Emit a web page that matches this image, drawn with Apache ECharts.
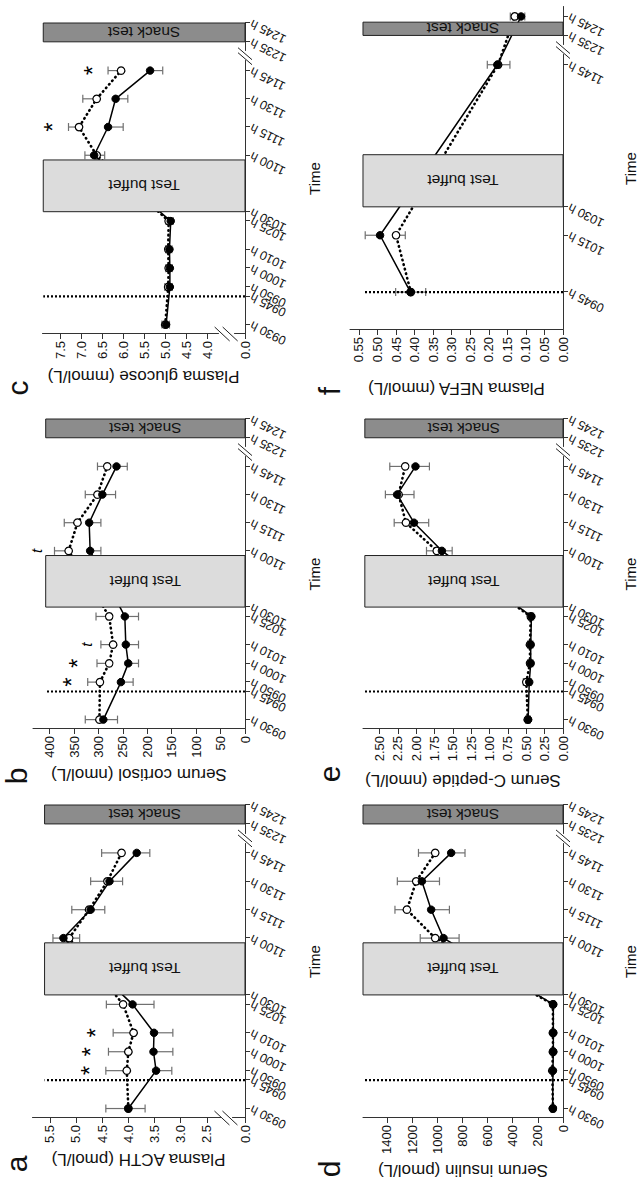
<!DOCTYPE html>
<html>
<head>
<meta charset="utf-8">
<script src="https://cdn.jsdelivr.net/npm/echarts@6/dist/echarts.min.js"></script>
<style>
html,body{margin:0;padding:0;width:642px;height:1184px;overflow:hidden;background:#fff;}
#wrap{position:absolute;left:0;top:0;width:1184px;height:642px;transform-origin:0 0;transform:translate(0,1184px) rotate(-90deg);}
#chart{width:1184px;height:642px;}
</style>
</head>
<body>
<div id="wrap"><div id="chart"></div></div>
<script>
// ---------- time (minutes after midnight) ----------
const sampleTimes = [570, 590, 600, 610, 625, 660, 675, 690, 705]; // 0930,0950,1000,1010,1025,1100,1115,1130,1145
const nefaTimes = [585, 615, 705, 765];                            // 0945,1015,1145,1245
const tickTimes = [570, 585, 590, 600, 610, 625, 630, 660, 675, 690, 705, 755, 765];
const tickTimeLabels = ['0930 h','0945 h','0950 h','1000 h','1010 h','1025 h','1030 h','1100 h','1115 h','1130 h','1145 h','1235 h','1245 h'];
const nefaTickTimes = [585, 615, 630, 705, 755, 765];
const nefaTickLabels = ['0945 h','1015 h','1030 h','1145 h','1235 h','1245 h'];
const baselineTime = 585;            // dotted line at 0945 h
const buffetPeriod = [630, 657.5];   // Test buffet
const snackPeriod = [755, 765];      // Snack test
const nefaSnackPeriod = [755, 762];
const timeBreak = [710, 750];
const timeMin = 565;
const timeMaxes = [765, 765, 765, 765, 765, 770];
const boxNames = ['Test buffet', 'Snack test'];
const markGlyphs = ['*', 't'];

// ---------- a: Plasma ACTH ----------
const acthFilled   = [4.00, 3.47, 3.52, 3.51, 3.92, 5.24, 4.72, 4.36, 3.84];
const acthFilledSD = [0.32, 0.30, 0.37, 0.36, 0.41, 0.20, 0.27, 0.25, 0.25];
const acthOpen     = [4.00, 4.03, 4.00, 3.90, 4.10, 5.13, 4.75, 4.40, 4.13];
const acthOpenSD   = [0.43, 0.40, 0.38, 0.39, 0.32, 0.20, 0.33, 0.32, 0.38];
const acthTicks = [0, 2.5, 3.0, 3.5, 4.0, 4.5, 5.0, 5.5];
const acthBreak = [0.25, 2.25];
const acthMarks = [[590, 4.83, 0], [600, 4.81, 0], [610, 4.73, 0]];

// ---------- b: Serum cortisol ----------
const cortFilled   = [290, 254, 239, 244, 246, 317, 319, 292, 263];
const cortFilledSD = [29, 25, 21, 26, 28, 22, 24, 27, 22];
const cortOpen     = [298, 297, 278, 270, 278, 361, 343, 302, 282];
const cortOpenSD   = [29, 25, 25, 25, 27, 29, 27, 25, 20];
const cortTicks = [0, 50, 100, 150, 200, 250, 300, 350, 400];
const cortMarks = [[590, 365, 0], [600, 353, 0], [610, 325, 1], [660, 426, 1]];

// ---------- c: Plasma glucose ----------
const glucFilled   = [4.98, 4.89, 4.89, 4.90, 4.87, 6.69, 6.36, 6.18, 5.36];
const glucFilledSD = [0.08, 0.06, 0.06, 0.06, 0.06, 0.22, 0.36, 0.29, 0.30];
const glucOpen     = [5.00, 4.93, 4.92, 4.93, 4.92, 6.63, 7.05, 6.63, 6.05];
const glucOpenSD   = [0.08, 0.08, 0.07, 0.06, 0.06, 0.19, 0.25, 0.33, 0.31];
const glucTicks = [0, 4.0, 4.5, 5.0, 5.5, 6.0, 6.5, 7.0, 7.5];
const glucBreak = [0.25, 3.75];
const glucMarks = [[675, 7.81, 0], [705, 6.86, 0]];

// ---------- d: Serum insulin ----------
const insFilled   = [82, 80, 77, 77, 77, 950, 1048, 1122, 889];
const insFilledSD = [12, 10, 10, 10, 10, 124, 145, 140, 110];
const insOpen     = [80, 85, 80, 80, 80, 1016, 1241, 1167, 1016];
const insOpenSD   = [12, 10, 10, 10, 10, 119, 95, 150, 133];
const insTicks = [0, 200, 400, 600, 800, 1000, 1200, 1400];

// ---------- e: Serum C-peptide ----------
const cpepFilled   = [0.475, 0.46, 0.44, 0.44, 0.43, 1.65, 2.03, 2.26, 2.01];
const cpepFilledSD = [0.03, 0.03, 0.03, 0.03, 0.03, 0.14, 0.20, 0.16, 0.19];
const cpepOpen     = [0.48, 0.50, 0.45, 0.45, 0.44, 1.72, 2.14, 2.24, 2.15];
const cpepOpenSD   = [0.03, 0.04, 0.03, 0.03, 0.03, 0.14, 0.16, 0.21, 0.21];
const cpepTicks = [0, 0.25, 0.5, 0.75, 1.0, 1.25, 1.5, 1.75, 2.0, 2.25, 2.5];

// ---------- f: Plasma NEFA ----------
const nefaFilled   = [0.411, 0.493, 0.177, 0.113];
const nefaFilledSD = [0.04, 0.04, 0.027, 0.01];
const nefaOpen     = [0.410, 0.450, 0.175, 0.130];
const nefaOpenSD   = [0.04, 0.025, 0.032, 0.012];
const nefaTicks = [0, 0.05, 0.1, 0.15, 0.2, 0.25, 0.3, 0.35, 0.4, 0.45, 0.5, 0.55];

// axis extents and box heights (data units)
const axisMax = [5.84, 434, 7.93, 1590, 2.725, 0.574];
const boxTops = [5.6, 408, 7.9, 1590, 2.70, 0.539];

// ---------- assemble ----------
const panels = [
  {name:'Plasma ACTH (pmol/L)', t:sampleTimes, f:acthFilled, fsd:acthFilledSD, o:acthOpen, osd:acthOpenSD, ticks:acthTicks, dec:1, brk:acthBreak, marks:acthMarks, xt:tickTimes, xl:tickTimeLabels, snack:snackPeriod},
  {name:'Serum cortisol (nmol/L)', t:sampleTimes, f:cortFilled, fsd:cortFilledSD, o:cortOpen, osd:cortOpenSD, ticks:cortTicks, dec:0, brk:null, marks:cortMarks, xt:tickTimes, xl:tickTimeLabels, snack:snackPeriod},
  {name:'Plasma glucose (mmol/L)', t:sampleTimes, f:glucFilled, fsd:glucFilledSD, o:glucOpen, osd:glucOpenSD, ticks:glucTicks, dec:1, brk:glucBreak, marks:glucMarks, xt:tickTimes, xl:tickTimeLabels, snack:snackPeriod},
  {name:'Serum insulin (pmol/L)', t:sampleTimes, f:insFilled, fsd:insFilledSD, o:insOpen, osd:insOpenSD, ticks:insTicks, dec:0, brk:null, marks:[], xt:tickTimes, xl:tickTimeLabels, snack:snackPeriod},
  {name:'Serum C-peptide (nmol/L)', t:sampleTimes, f:cpepFilled, fsd:cpepFilledSD, o:cpepOpen, osd:cpepOpenSD, ticks:cpepTicks, dec:2, brk:null, marks:[], xt:tickTimes, xl:tickTimeLabels, snack:snackPeriod},
  {name:'Plasma NEFA (mmol/L)', t:nefaTimes, f:nefaFilled, fsd:nefaFilledSD, o:nefaOpen, osd:nefaOpenSD, ticks:nefaTicks, dec:2, brk:null, marks:[], xt:nefaTickTimes, xl:nefaTickLabels, snack:nefaSnackPeriod}
];

// layout (landscape figure, rotated on the page)
const layout = [
  {left:66,  top:32,  width:313, height:213, nameGap:33, letter:'a', lx:20,  ly:31},
  {left:455, top:33,  width:310, height:212, nameGap:37, letter:'b', lx:408, ly:31},
  {left:850, top:42,  width:311, height:203, nameGap:34, letter:'c', lx:796, ly:32},
  {left:66,  top:363, width:313, height:200, nameGap:44, letter:'d', lx:15,  ly:344},
  {left:455, top:363, width:310, height:200, nameGap:43, letter:'e', lx:410, ly:344},
  {left:854, top:350, width:323, height:213, nameGap:50, letter:'f', lx:793, ly:344}
];

const FONT = 'Liberation Sans, Arial, Helvetica, sans-serif';
const AX = '#333';

function errRender(params, api) {
  const t = api.value(0), v = api.value(1), e = api.value(2), d = api.value(3);
  const a = api.coord([t, v]), b = api.coord([t, v + d * e]);
  const st = {stroke:'#707070', lineWidth:1.2};
  return {type:'group', children:[
    {type:'line', shape:{x1:a[0], y1:a[1], x2:b[0], y2:b[1]}, style:st},
    {type:'line', shape:{x1:b[0]-4, y1:b[1], x2:b[0]+4, y2:b[1]}, style:st}
  ]};
}

const grids = [], xAxes = [], yAxes = [], series = [], graphics = [];

panels.forEach((p, i) => {
  const L = layout[i];
  grids.push({left:L.left, top:L.top, width:L.width, height:L.height, containLabel:false, outerBoundsMode:'none'});
  const xt = p.xt, xl = p.xl;
  xAxes.push({
    type:'value', gridIndex:i, min:timeMin, max:timeMaxes[i],
    breaks:[{start:timeBreak[0], end:timeBreak[1], gap:'3.2%'}],
    breakArea:{show:false},
    axisLine:{show:true, onZero:false, lineStyle:{color:AX, width:1}},
    axisTick:{show:true, length:5, customValues:xt, lineStyle:{color:AX, width:1}},
    axisLabel:{show:true, customValues:xt, rotate:64, margin:6, fontSize:12.5, color:'#111', fontFamily:FONT,
      formatter:(v) => { const k = xt.indexOf(Math.round(v)); return k >= 0 ? xl[k] : ''; }},
    splitLine:{show:false},
    name:'Time', nameLocation:'middle', nameGap:(i < 3 ? 62 : 60), nameMoveOverlap:false,
    nameTextStyle:{fontSize:15, color:'#111', fontFamily:FONT}
  });
  const yax = {
    type:'value', gridIndex:i, min:0, max:axisMax[i],
    axisLine:{show:true, onZero:false, lineStyle:{color:AX, width:1}},
    axisTick:{show:true, length:5, customValues:p.ticks, lineStyle:{color:AX, width:1}},
    axisLabel:{show:true, customValues:p.ticks, margin:7, fontSize:13, color:'#111', fontFamily:FONT,
      formatter:(v) => Number(v).toFixed(p.dec)},
    splitLine:{show:false},
    name:p.name, nameLocation:'middle', nameRotate:90, nameGap:L.nameGap, nameMoveOverlap:false,
    nameTextStyle:{fontSize:17, color:'#111', fontFamily:FONT}
  };
  if (p.brk) {
    yax.breaks = [{start:p.brk[0], end:p.brk[1], gap:(i === 0 ? '5.6%' : '8.2%')}];
    yax.breakArea = {show:false};
  }
  yAxes.push(yax);

  const dirF = p.f.map((v, k) => (v > p.o[k] ? 1 : -1));
  // error bars (one-sided, pointing away from the other group)
  series.push({type:'custom', xAxisIndex:i, yAxisIndex:i, z:2, silent:true, renderItem:errRender,
    encode:{x:0, y:1}, data:p.t.map((t, k) => [t, p.o[k], p.osd[k], -dirF[k]])});
  series.push({type:'custom', xAxisIndex:i, yAxisIndex:i, z:2, silent:true, renderItem:errRender,
    encode:{x:0, y:1}, data:p.t.map((t, k) => [t, p.f[k], p.fsd[k], dirF[k]])});
  // dotted baseline line at 0945 h
  series.push({type:'line', xAxisIndex:i, yAxisIndex:i, z:2, silent:true, symbol:'none',
    data:[[baselineTime, 0], [baselineTime, boxTops[i]]],
    lineStyle:{color:'#000', width:2.2, type:[2, 2]}});
  // open circles, dotted line
  series.push({type:'line', xAxisIndex:i, yAxisIndex:i, z:3, silent:true,
    data:p.t.map((t, k) => [t, p.o[k]]), symbol:'circle', symbolSize:7.5,
    itemStyle:{color:'#fff', borderColor:'#000', borderWidth:1.2},
    lineStyle:{color:'#000', width:2.6, type:[0.5, 4.2], cap:'round'}});
  // filled circles, solid line
  series.push({type:'line', xAxisIndex:i, yAxisIndex:i, z:4, silent:true,
    data:p.t.map((t, k) => [t, p.f[k]]), symbol:'circle', symbolSize:7.5,
    itemStyle:{color:'#000', borderColor:'#000', borderWidth:1},
    lineStyle:{color:'#000', width:1.5}});
  // boxes: Test buffet and Snack test
  series.push({type:'custom', xAxisIndex:i, yAxisIndex:i, z:10, silent:true, encode:{x:0, y:2},
    data:[[buffetPeriod[0], buffetPeriod[1], boxTops[i], 0], [p.snack[0], p.snack[1], boxTops[i], 1]],
    renderItem:(params, api) => {
      const a = api.coord([api.value(0), 0]);
      const b = api.coord([api.value(1), api.value(2)]);
      const kind = api.value(3);
      return {type:'group', children:[
        {type:'rect', shape:{x:a[0], y:b[1], width:b[0]-a[0], height:a[1]-b[1]},
          style:{fill:(kind === 0 ? '#dcdcdc' : '#8c8c8c'), stroke:'#222', lineWidth:1}},
        {type:'text', x:(a[0]+b[0])/2, y:(a[1]+b[1])/2, rotation:Math.PI/2,
          style:{text:boxNames[kind], font:'15.5px ' + FONT, fill:'#111',
            align:'center', verticalAlign:'middle', textAlign:'center', textVerticalAlign:'middle'}}
      ]};
    }});
  // significance marks
  if (p.marks.length) {
    series.push({type:'custom', xAxisIndex:i, yAxisIndex:i, z:11, silent:true, encode:{x:0, y:1},
      data:p.marks,
      renderItem:(params, api) => {
        const c = api.coord([api.value(0), api.value(1)]);
        const kind = api.value(2);
        return {type:'text', x:c[0], y:c[1] + (kind === 0 ? 5 : 0),
          style:{text:markGlyphs[kind], font:(kind === 0 ? '24px ' : 'italic 15px ') + FONT, fill:'#000',
            align:'center', verticalAlign:'middle', textAlign:'center', textVerticalAlign:'middle'}};
      }});
  }
  // axis break marks (//)
  series.push({type:'custom', xAxisIndex:i, yAxisIndex:i, z:12, silent:true, encode:{x:0},
    data:[[timeBreak[0], timeBreak[1]]],
    renderItem:(params, api) => {
      const a = api.coord([api.value(0), 0]), b = api.coord([api.value(1), 0]);
      const cx = (a[0] + b[0]) / 2, cy = a[1];
      const st = {stroke:'#222', lineWidth:1};
      return {type:'group', children:[
        {type:'rect', shape:{x:cx-2.5, y:cy-1.5, width:5, height:3}, style:{fill:'#fff'}},
        {type:'line', shape:{x1:cx-8.5, y1:cy+7, x2:cx+3.5, y2:cy-7}, style:st},
        {type:'line', shape:{x1:cx-3.5, y1:cy+7, x2:cx+8.5, y2:cy-7}, style:st}
      ]};
    }});
  if (p.brk) {
    series.push({type:'custom', xAxisIndex:i, yAxisIndex:i, z:12, silent:true, encode:{y:0},
      data:[[p.brk[0], p.brk[1]]],
      renderItem:(params, api) => {
        const a = api.coord([timeMin, api.value(0)]), b = api.coord([timeMin, api.value(1)]);
        const cx = a[0], cy = (a[1] + b[1]) / 2;
        const st = {stroke:'#222', lineWidth:1};
        return {type:'group', children:[
          {type:'rect', shape:{x:cx-1.5, y:cy-2.5, width:3, height:5}, style:{fill:'#fff'}},
          {type:'line', shape:{x1:cx-7, y1:cy+11.5, x2:cx+7, y2:cy-3.5}, style:st},
          {type:'line', shape:{x1:cx-7, y1:cy+3.5, x2:cx+7, y2:cy-11.5}, style:st}
        ]};
      }});
  }
  graphics.push({type:'text', x:L.lx, y:L.ly, silent:true,
    style:{text:L.letter, font:'30px ' + FONT, fill:'#111', align:'center', verticalAlign:'bottom',
      textAlign:'center', textVerticalAlign:'bottom'}});
});

const chart = echarts.init(document.getElementById('chart'), null, {renderer:'svg', width:1184, height:642});
chart.setOption({
  animation:false,
  backgroundColor:'#fff',
  textStyle:{fontFamily:FONT},
  grid:grids, xAxis:xAxes, yAxis:yAxes, series:series, graphic:graphics
});
</script>
</body>
</html>
